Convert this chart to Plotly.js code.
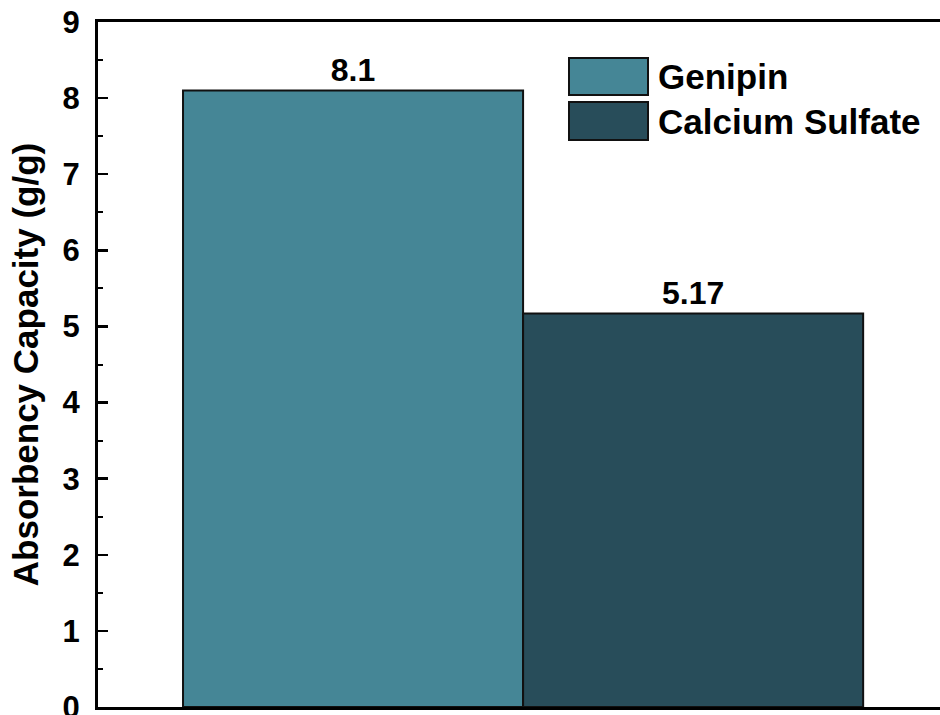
<!DOCTYPE html>
<html>
<head>
<meta charset="utf-8">
<script src="https://cdn.plot.ly/plotly-3.0.1.min.js"></script>
<style>html,body{margin:0;padding:0;background:#fff;}#chart{width:940px;height:715px;}</style>
</head>
<body>
<div id="chart"></div>
<script>
const seriesNames = ['Genipin', 'Calcium Sulfate'];
const seriesValues = [8.1, 5.17];
const seriesLabels = ['8.1', '5.17'];
const seriesColors = ['#458696', '#284d5a'];
const yTickValues = [0, 1, 2, 3, 4, 5, 6, 7, 8, 9];

const FONT = 'Liberation Sans, Arial, sans-serif';

const traces = seriesNames.map((name, i) => ({
  type: 'bar',
  name: name,
  x: [i],
  y: [seriesValues[i]],
  width: [1],
  text: [seriesLabels[i]],
  textposition: 'outside',
  cliponaxis: false,
  textfont: {family: FONT, size: 32, color: '#000', weight: 'bold'},
  marker: {color: seriesColors[i], line: {color: '#111', width: 2}},
  showlegend: false
}));

// legend drawn as paper shapes + annotations
const L = 98, T = 22, B = 8, R = 0, W = 940, H = 715;
const pw = W - L - R, ph = H - T - B;
const px = v => (v - L) / pw;
const py = v => (H - B - v) / ph;
const legendRows = [[58, 95], [102, 140]];
const shapes = [];
const annotations = [];
seriesNames.forEach((name, i) => {
  const [y0, y1] = legendRows[i];
  shapes.push({type: 'rect', xref: 'paper', yref: 'paper',
    x0: px(569), x1: px(648), y0: py(y1), y1: py(y0),
    fillcolor: seriesColors[i], line: {color: '#111', width: 2}});
  annotations.push({xref: 'paper', yref: 'paper', x: px(656), y: py((y0 + y1) / 2),
    xanchor: 'left', yanchor: 'middle', showarrow: false, text: name,
    font: {family: FONT, size: 35, color: '#000', weight: 'bold'}});
});

const layout = {
  width: W, height: H,
  margin: {l: L, r: R, t: T, b: B},
  paper_bgcolor: '#fff', plot_bgcolor: '#fff',
  barmode: 'overlay',
  font: {family: FONT, color: '#000'},
  xaxis: {
    range: [-0.75, 1.726], showgrid: false, zeroline: false,
    showticklabels: false, ticks: '', showline: true, mirror: true,
    linecolor: '#000', linewidth: 3
  },
  yaxis: {
    range: [0, 9], tickvals: yTickValues, ticktext: yTickValues.map(String),
    showgrid: false, zeroline: false,
    ticks: 'inside', ticklen: 10, tickwidth: 2.5, tickcolor: '#000',
    minor: {dtick: 0.5, ticks: 'inside', ticklen: 5, tickwidth: 2, tickcolor: '#000', showgrid: false},
    showline: true, linecolor: '#000', linewidth: 3,
    ticklabelstandoff: 9,
    ticklabeloverflow: 'allow',
    tickfont: {family: FONT, size: 31, color: '#000', weight: 'bold'},
    title: {text: 'Absorbency Capacity (g/g)', standoff: 14,
      font: {family: FONT, size: 35, color: '#000', weight: 'bold'}}
  },
  shapes: shapes,
  annotations: annotations
};

Plotly.newPlot('chart', traces, layout, {displayModeBar: false, staticPlot: true});
</script>
</body>
</html>
